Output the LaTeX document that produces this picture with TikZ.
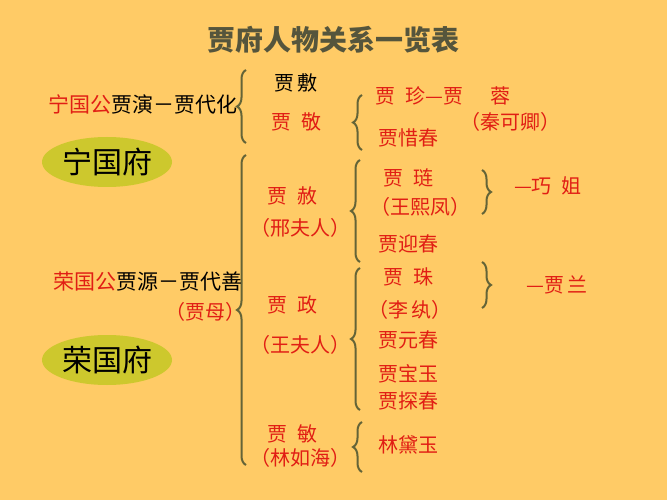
\documentclass[tikz,border=0pt]{standalone}
\usepackage{fontspec}
\setmainfont{Noto Sans CJK SC}
\usetikzlibrary{decorations.pathreplacing,shapes.geometric}
\definecolor{bg}{RGB}{255,203,102}
\definecolor{ell}{RGB}{205,200,45}
\definecolor{br}{RGB}{100,100,55}
\definecolor{rd}{RGB}{225,30,20}
\definecolor{tt}{RGB}{85,85,60}
\tikzset{
 brc/.style={draw=br,line width=2pt,decorate,decoration={brace,amplitude=9pt}},
 nm/.style={font=\fontsize{20}{20}\selectfont,text=rd,inner sep=0pt},
 bk/.style={font=\fontsize{21}{21}\selectfont,text=black,inner sep=0pt},
 house/.style={ellipse,fill=ell,font=\fontsize{30}{30}\selectfont,minimum width=130pt,minimum height=50pt,inner sep=0pt}
}
\begin{document}
\begin{tikzpicture}[x=1pt,y=-1pt]
\fill[bg] (0,0) rectangle (667,500);
\useasboundingbox (0,0) rectangle (667,500);
\node[font=\fontsize{28}{28}\selectfont\bfseries,text=tt] (title) at (333,40) {贾府人物关系一览表};
\node[bk,anchor=east] (ng) at (238,104) {\textcolor{rd}{宁国公}贾演－贾代化};
\draw[brc] (246,143) -- (246,70);
\node[bk,font=\fontsize{20}{20}\selectfont] (fu) at (296,83) {贾\,敷};
\node[nm] (jing) at (296,122) {贾\,\,\,敬};
\draw[brc] (362,150) -- (362,95);
\node[nm,anchor=west] (zhen) at (375,96) {贾\enspace 珍—贾\quad\, 蓉};
\node[nm] (qin) at (510,122) {（秦可卿）};
\node[nm] (xc) at (408,138) {贾惜春};
\node[house] (ngf) at (107,162) {宁国府};
\draw[brc] (246,465) -- (246,155);
\node[bk,anchor=east] (rg) at (243,282) {\textcolor{rd}{荣国公}贾源－贾代善};
\node[nm] (jm) at (205,312) {（贾母）};
\node[house] (rgf) at (107,360) {荣国府};
\node[nm] (she) at (292,196) {贾\enspace 赦};
\node[nm] (xing) at (300,228) {（邢夫人）};
\draw[brc] (360,262) -- (360,160);
\node[nm] (lian) at (408,178) {贾\enspace 琏};
\node[nm] (wxf) at (420,207) {（王熙凤）};
\node[nm] (yc) at (408,244) {贾迎春};
\draw[brc] (482,170) -- (482,214);
\node[nm] (qj) at (548,186) {—巧\enspace 姐};
\node[nm] (zheng) at (292,305) {贾\enspace 政};
\node[nm] (wang) at (300,345) {（王夫人）};
\draw[brc] (360,410) -- (360,268);
\node[nm] (zhu) at (408,277) {贾\enspace 珠};
\node[nm] (lw) at (410,310) {（李\,纨）};
\node[nm] (yuc) at (408,340) {贾元春};
\node[nm] (bao) at (408,374) {贾宝玉};
\node[nm] (tan) at (408,401) {贾探春};
\draw[brc] (482,262) -- (482,308);
\node[nm] (lan) at (557,285) {—贾\,兰};
\node[nm] (min) at (292,434) {贾\enspace 敏};
\node[nm] (lrh) at (300,458) {（林如海）};
\draw[brc] (362,472) -- (362,422);
\node[nm] (dy) at (408,445) {林黛玉};
\end{tikzpicture}
\end{document}
